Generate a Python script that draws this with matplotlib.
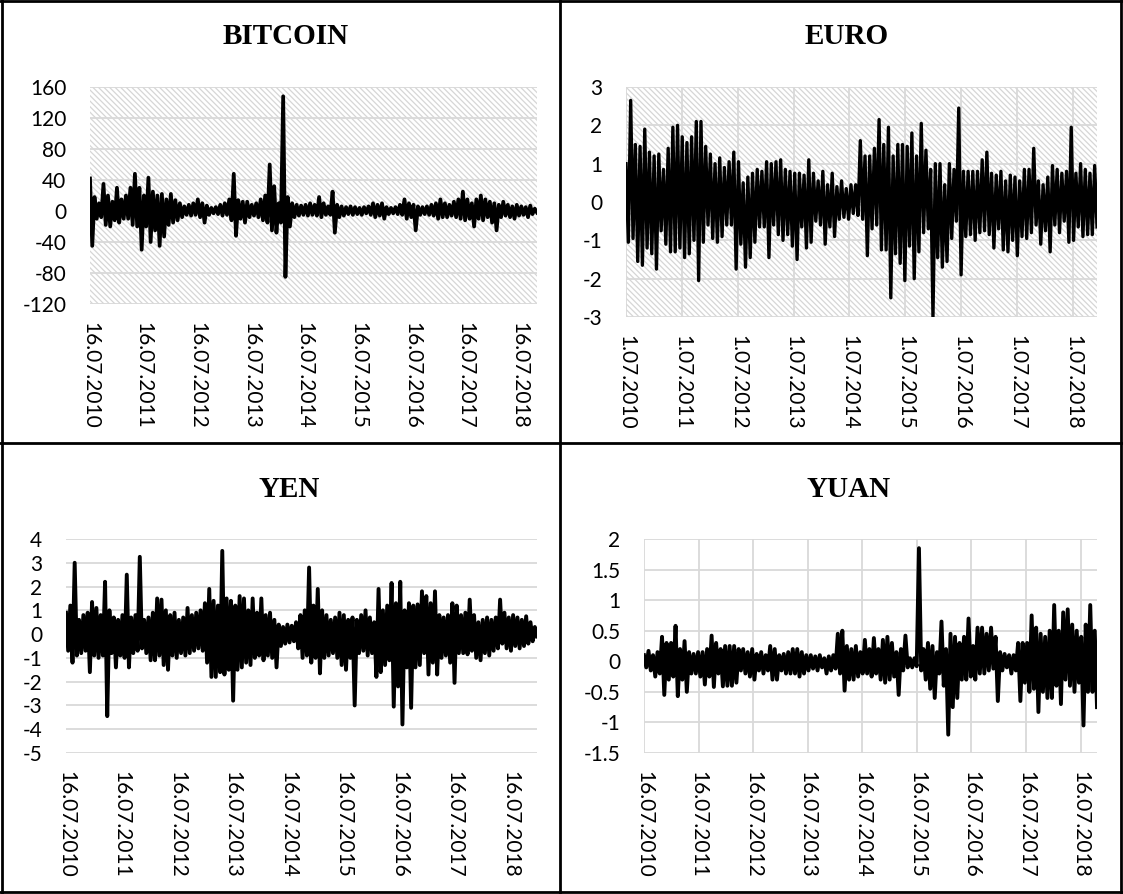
import matplotlib
matplotlib.use('Agg')
import matplotlib.pyplot as plt
from matplotlib.patches import Rectangle
from matplotlib.lines import Line2D
from matplotlib.ticker import FuncFormatter
import numpy as np
import pandas as pd

plt.rcParams['font.family'] = ['Lato', 'DejaVu Sans']
plt.rcParams['hatch.linewidth'] = 0.9

# values: for each period the high and the low of the series
btc_hi = [42, 18, 10, 35, 20, 12, 30, 15, 20, 30,
          48, 30, 20, 43, 25, 20, 22, 15, 22, 14,
          10, 6, 8, 10, 15, 10, 7, 4, 5, 8,
          10, 15, 48, 14, 12, 12, 8, 10, 15, 20,
          60, 32, 10, 148, 18, 10, 8, 7, 8, 10,
          8, 18, 10, 6, 25, 8, 6, 5, 6, 5,
          4, 5, 6, 10, 8, 10, 5, 4, 5, 8,
          15, 10, 8, 6, 5, 6, 8, 10, 15, 10,
          8, 12, 15, 25, 15, 10, 15, 20, 15, 12,
          10, 8, 12, 8, 6, 8, 6, 5, 7, 3]
btc_lo = [-45, -10, -8, -18, -20, -12, -15, -10, -10, -18,
          -20, -50, -20, -40, -25, -45, -33, -18, -15, -12,
          -8, -5, -6, -5, -8, -15, -5, -3, -4, -6,
          -5, -12, -32, -10, -15, -8, -6, -8, -12, -15,
          -25, -28, -15, -85, -20, -8, -6, -5, -6, -5,
          -6, -8, -5, -5, -28, -8, -6, -4, -5, -4,
          -5, -3, -5, -8, -6, -10, -4, -3, -4, -5,
          -10, -8, -25, -5, -4, -5, -6, -10, -8, -8,
          -6, -8, -10, -12, -10, -20, -10, -12, -8, -15,
          -25, -8, -6, -8, -10, -6, -5, -8, -4, -2]

euro_hi = [1.0, 2.65, 1.5, 1.45, 1.9, 1.3, 1.2, 1.25, 0.85, 1.4,
           1.95, 2.0, 1.7, 1.55, 1.7, 2.1, 2.1, 1.45, 1.25, 1.0,
           1.15, 0.9, 1.05, 1.3, 1.05, 0.5, 0.65, 0.75, 0.85, 0.8,
           1.05, 1.0, 1.05, 1.1, 0.85, 0.8, 0.75, 0.75, 0.7, 1.1,
           0.75, 0.55, 0.8, 0.45, 0.75, 0.4, 0.55, 0.35, 0.45, 0.45,
           1.6, 1.2, 1.2, 1.4, 2.15, 1.5, 1.95, 1.2, 1.5, 1.5,
           1.45, 1.8, 1.2, 2.05, 1.35, 0.85, 1.0, 1.0, 0.45, 1.0,
           0.85, 2.45, 0.8, 0.8, 0.8, 0.8, 1.1, 1.3, 0.75, 0.7,
           0.8, 0.55, 0.7, 0.65, 0.55, 0.85, 0.85, 1.4, 0.55, 0.45,
           0.65, 0.95, 0.85, 0.75, 0.8, 1.95, 0.75, 1.0, 0.85, 0.75,
           0.95]
euro_lo = [-1.05, -0.95, -1.55, -1.65, -1.2, -1.35, -1.75, -0.75, -1.1, -1.3,
           -1.3, -1.2, -1.45, -1.35, -1.0, -2.05, -1.05, -0.6, -0.95, -1.05,
           -0.9, -0.6, -0.6, -1.75, -1.1, -1.7, -1.45, -1.05, -0.65, -0.65,
           -1.45, -0.6, -0.85, -1.0, -0.85, -1.15, -1.5, -0.65, -1.2, -1.05,
           -0.5, -0.6, -1.1, -0.65, -0.9, -0.45, -0.4, -0.45, -0.3, -0.35,
           -0.45, -1.4, -0.7, -0.6, -1.25, -1.25, -2.5, -1.35, -1.6, -2.05,
           -1.15, -2.0, -1.3, -0.8, -0.7, -3.0, -1.45, -1.7, -1.55, -0.95,
           -0.5, -1.9, -0.9, -0.85, -1.0, -0.8, -0.75, -0.85, -1.2, -0.7,
           -1.25, -1.3, -1.0, -1.4, -0.9, -0.95, -0.8, -0.6, -1.1, -0.75,
           -1.3, -0.6, -0.8, -0.5, -1.05, -1.0, -0.65, -0.9, -0.85, -0.85,
           -0.65]

yen_hi = [0.9, 1.2, 3.0, 0.6, 0.8, 0.9, 1.35, 1.1, 0.8, 2.2,
          1.0, 0.7, 0.6, 0.8, 2.5, 0.7, 0.8, 3.25, 0.6, 0.7,
          0.9, 1.5, 1.45, 1.0, 0.8, 0.9, 0.6, 0.7, 1.1, 0.8,
          0.9, 1.0, 1.3, 1.9, 1.4, 1.2, 3.5, 1.5, 1.4, 1.2,
          1.6, 1.5, 1.0, 1.5, 0.9, 1.5, 0.8, 0.9, 0.6, 0.4,
          0.3, 0.4, 0.35, 0.5, 0.8, 1.0, 2.8, 1.2, 1.9, 1.0,
          0.8, 0.6, 0.7, 0.9, 0.8, 0.6, 0.7, 0.6, 0.8, 1.0,
          0.7, 0.5, 1.9, 1.0, 1.2, 2.15, 1.3, 2.2, 1.0, 1.3,
          1.2, 1.25, 1.8, 1.6, 1.3, 1.8, 0.8, 0.7, 0.8, 1.3,
          1.2, 0.8, 0.9, 1.45, 0.8, 0.5, 0.6, 0.7, 0.6, 0.7,
          1.45, 0.9, 0.7, 0.8, 0.7, 0.6, 0.75, 0.5, 0.3]
yen_lo = [-0.7, -1.2, -0.9, -0.8, -0.7, -1.6, -0.9, -1.0, -0.9, -3.45,
          -0.8, -1.4, -0.9, -1.0, -1.4, -0.8, -0.7, -0.6, -0.8, -1.1,
          -1.1, -0.9, -1.3, -1.5, -0.9, -1.0, -0.8, -0.9, -0.8, -0.7,
          -0.6, -0.7, -1.2, -1.8, -1.8, -1.6, -1.7, -1.5, -2.8, -1.5,
          -1.4, -1.2, -1.3, -1.0, -0.9, -1.1, -0.9, -1.0, -1.4, -0.5,
          -0.4, -0.35, -0.3, -0.6, -1.0, -0.9, -1.2, -1.0, -1.65, -1.0,
          -0.9, -0.8, -1.0, -1.3, -1.5, -1.0, -3.0, -0.8, -0.7, -0.9,
          -0.8, -1.8, -1.6, -1.3, -1.1, -3.05, -2.2, -3.8, -1.4, -3.1,
          -1.4, -1.3, -0.8, -1.7, -1.2, -1.7, -1.0, -0.9, -1.2, -2.05,
          -0.8, -0.8, -0.85, -0.7, -1.0, -1.1, -0.8, -0.9, -0.7, -0.6,
          -0.4, -0.6, -0.7, -0.5, -0.6, -0.5, -0.4, -0.3, -0.1]

yuan_hi = [0.1, 0.17, 0.1, 0.15, 0.4, 0.3, 0.3, 0.58, 0.2, 0.33,
           0.15, 0.12, 0.15, 0.15, 0.2, 0.42, 0.3, 0.2, 0.25, 0.25,
           0.25, 0.2, 0.2, 0.15, 0.2, 0.12, 0.15, 0.1, 0.25, 0.2,
           0.1, 0.12, 0.15, 0.2, 0.2, 0.15, 0.1, 0.1, 0.08, 0.1,
           0.05, 0.08, 0.1, 0.45, 0.5, 0.25, 0.2, 0.25, 0.15, 0.35,
           0.2, 0.38, 0.2, 0.35, 0.4, 0.3, 0.15, 0.2, 0.42, 0.05,
           0.05, 1.85, 0.2, 0.3, 0.25, 0.15, 0.65, 0.2, 0.45, 0.4,
           0.3, 0.4, 0.7, 0.25, 0.55, 0.55, 0.45, 0.55, 0.4, 0.15,
           0.12, 0.1, 0.1, 0.3, 0.3, 0.3, 0.75, 0.55, 0.45, 0.4,
           0.5, 0.92, 0.5, 0.8, 0.85, 0.6, 0.5, 0.4, 0.6, 0.92, 0.5]
yuan_lo = [-0.1, -0.15, -0.25, -0.2, -0.55, -0.3, -0.25, -0.57, -0.3, -0.5,
           -0.2, -0.2, -0.25, -0.38, -0.25, -0.42, -0.2, -0.41, -0.4, -0.4,
           -0.35, -0.15, -0.2, -0.25, -0.3, -0.15, -0.2, -0.15, -0.3, -0.3,
           -0.15, -0.2, -0.2, -0.2, -0.25, -0.2, -0.15, -0.12, -0.15, -0.1,
           -0.2, -0.15, -0.12, -0.2, -0.48, -0.3, -0.3, -0.25, -0.2, -0.2,
           -0.25, -0.2, -0.3, -0.35, -0.3, -0.25, -0.55, -0.15, -0.1, -0.1,
           -0.08, -0.15, -0.3, -0.45, -0.6, -0.2, -0.4, -1.2, -0.75, -0.6,
           -0.3, -0.3, -0.25, -0.3, -0.2, -0.2, -0.15, -0.12, -0.65, -0.15,
           -0.1, -0.2, -0.15, -0.65, -0.35, -0.5, -0.45, -0.83, -0.5, -0.6,
           -0.6, -0.4, -0.7, -0.3, -0.4, -0.5, -0.35, -1.05, -0.5, -0.5, -0.75]

years = ['2010', '2011', '2012', '2013', '2014', '2015', '2016', '2017', '2018']
tick_dates_16 = ['%s-07-16' % y for y in years]
tick_dates_01 = ['%s-07-01' % y for y in years]
labels_16 = ['16.07.%s' % y for y in years]
labels_01 = ['1.07.%s' % y for y in years]

W, H = 1123, 894
fig = plt.figure(figsize=(W / 100, H / 100), dpi=100)


def px_rect(x0, y0, x1, y1):
    return [x0 / W, 1 - y1 / H, (x1 - x0) / W, (y1 - y0) / H]


def panel(rect, hi, lo, start, end, ticks, labels, yticks, hatch, vgrid, lw):
    ax = fig.add_axes(rect)
    dates = pd.date_range(start, end, periods=2 * len(hi))
    vals = np.column_stack([hi, lo]).ravel()
    if hatch:
        ax.add_patch(Rectangle((0, 0), 1, 1, transform=ax.transAxes,
                               facecolor='white', edgecolor='#d6d6d6',
                               hatch='\\' * 6, lw=0, zorder=0))
    ax.plot(dates, vals, color='black', lw=lw, zorder=3)
    ax.set_xlim(pd.Timestamp(start), pd.Timestamp(end))
    ax.set_ylim(yticks[0], yticks[-1])
    ax.set_yticks(yticks)
    ax.yaxis.set_major_formatter(FuncFormatter(lambda v, p: '%g' % v))
    ax.set_xticks(pd.to_datetime(ticks))
    ax.set_xticklabels(labels, rotation=-90, va='top', ha='center')
    ax.set_axisbelow(True)
    ax.grid(axis='y', color='#d9d9d9', lw=1.3)
    if vgrid:
        ax.grid(axis='x', color='#d9d9d9', lw=1.3)
    for s in ax.spines.values():
        s.set_visible(False)
    ax.tick_params(axis='both', length=0, labelsize=15, colors='black')
    ax.tick_params(axis='y', pad=17)
    ax.tick_params(axis='x', pad=13)
    return ax


panel(px_rect(90, 87, 537, 304), btc_hi, btc_lo, '2010-07-16', '2018-11-15',
      tick_dates_16, labels_16, [-120, -80, -40, 0, 40, 80, 120, 160], True, False, 2.7)
panel(px_rect(626, 87, 1097, 317), euro_hi, euro_lo, '2010-07-01', '2018-12-05',
      tick_dates_01, labels_01, [-3, -2, -1, 0, 1, 2, 3], True, True, 2.4)
panel(px_rect(66, 539, 537, 753), yen_hi, yen_lo, '2010-07-16', '2019-01-08',
      tick_dates_16, labels_16, [-5, -4, -3, -2, -1, 0, 1, 2, 3, 4], False, False, 2.8)
panel(px_rect(644, 539, 1097, 753), yuan_hi, yuan_lo, '2010-07-16', '2018-11-03',
      tick_dates_16, labels_16, [-1.5, -1, -0.5, 0, 0.5, 1, 1.5, 2], False, True, 2.8)

titles = [('BITCOIN', 286, 37), ('EURO', 847, 37), ('YEN', 289, 490), ('YUAN', 849, 490)]
for t, x, y in titles:
    fig.text(x / W, 1 - y / H, t, ha='center', va='center', fontsize=21,
             fontweight='bold', family='Liberation Serif')


# cell borders
def hline(x0, x1, y):
    fig.add_artist(Line2D([x0 / W, x1 / W], [1 - y / H, 1 - y / H], color='black', lw=2))


def vline(x, y0, y1):
    fig.add_artist(Line2D([x / W, x / W], [1 - y0 / H, 1 - y1 / H], color='black', lw=2))


hline(0, W, 1)
hline(0, W, 443)
hline(0, W, 892)
vline(2, 0, H)
vline(560, 0, H)
vline(1121, 0, H)

fig.savefig('out.png', dpi=100)
